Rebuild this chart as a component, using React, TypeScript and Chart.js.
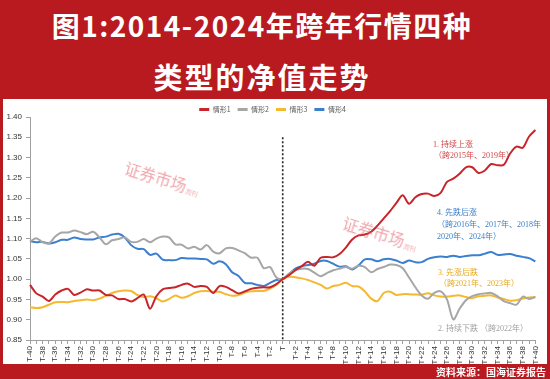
import React, { useEffect, useRef } from "react";
import { Chart, registerables } from "chart.js";

Chart.register(...registerables);

const categories = [
  "T-40","T-39","T-38","T-37","T-36","T-35","T-34","T-33","T-32","T-31",
  "T-30","T-29","T-28","T-27","T-26","T-25","T-24","T-23","T-22","T-21",
  "T-20","T-19","T-18","T-17","T-16","T-15","T-14","T-13","T-12","T-11",
  "T-10","T-9","T-8","T-7","T-6","T-5","T-4","T-3","T-2","T-1",
  "T",
  "T+1","T+2","T+3","T+4","T+5","T+6","T+7","T+8","T+9","T+10",
  "T+11","T+12","T+13","T+14","T+15","T+16","T+17","T+18","T+19","T+20",
  "T+21","T+22","T+23","T+24","T+25","T+26","T+27","T+28","T+29","T+30",
  "T+31","T+32","T+33","T+34","T+35","T+36","T+37","T+38","T+39","T+40",
];

const seriesNames = ["情形1", "情形2", "情形3", "情形4"];

const case1 = [
  0.986, 0.965, 0.957, 0.946, 0.962, 0.972, 0.976, 0.961, 0.967, 0.975,
  0.972, 0.972, 0.961, 0.96, 0.951, 0.951, 0.945, 0.953, 0.962, 0.927,
  0.958, 0.975, 0.978, 0.98, 0.986, 0.989, 0.981, 0.983, 0.981, 0.966,
  0.983, 0.981, 0.973, 0.965, 0.97, 0.976, 0.979, 0.98, 0.98, 0.988,
  1.0,
  1.01, 1.022, 1.032, 1.043, 1.033, 1.053, 1.055, 1.054, 1.062, 1.078,
  1.098, 1.108, 1.11, 1.117, 1.132, 1.15, 1.168, 1.188, 1.207, 1.186,
  1.202, 1.21, 1.211, 1.205, 1.213, 1.24, 1.248, 1.26, 1.276, 1.276,
  1.262, 1.268, 1.284, 1.281, 1.282, 1.31, 1.327, 1.324, 1.352, 1.368,
];

const case2 = [
  1.093, 1.101, 1.091, 1.088, 1.105, 1.115, 1.115, 1.12, 1.116, 1.111,
  1.117, 1.103, 1.086, 1.096, 1.099, 1.103, 1.092, 1.092, 1.099, 1.091,
  1.1, 1.105, 1.103, 1.086, 1.085, 1.076, 1.08, 1.073, 1.084, 1.068,
  1.064, 1.076, 1.077, 1.071, 1.064, 1.053, 1.053, 1.027, 1.03, 1.004,
  1.0,
  1.014, 1.022, 1.026, 1.025, 1.016, 1.007, 1.015, 1.022, 1.026, 1.03,
  1.026, 1.033, 1.03, 1.017, 1.025, 1.03, 1.036, 1.035, 1.027, 1.004,
  0.98, 0.96, 0.952, 0.966, 0.97, 0.95, 0.901, 0.927, 0.948, 0.958,
  0.963, 0.965, 0.966, 0.958, 0.946, 0.941, 0.937, 0.957, 0.951, 0.957,
];

const case3 = [
  0.931, 0.929, 0.931, 0.937, 0.943, 0.944, 0.943, 0.946, 0.948, 0.95,
  0.948, 0.952, 0.959, 0.966, 0.97, 0.972, 0.971, 0.961, 0.956, 0.958,
  0.953, 0.945, 0.951, 0.96, 0.954, 0.958, 0.966, 0.97, 0.971, 0.969,
  0.969, 0.963, 0.959, 0.961, 0.967, 0.97, 0.971, 0.971, 0.977, 0.986,
  1.0,
  1.006, 1.005, 1.002, 0.998, 0.992, 0.986, 0.977, 0.983, 0.986, 0.991,
  0.983, 0.982, 0.97, 0.952, 0.946, 0.966, 0.969, 0.961, 0.963, 0.963,
  0.962, 0.962, 0.965, 0.96, 0.957, 0.957, 0.959, 0.96, 0.956, 0.953,
  0.958, 0.959, 0.96, 0.955, 0.951, 0.947, 0.948, 0.952, 0.955, 0.955,
];

const case4 = [
  1.094, 1.091, 1.092, 1.088, 1.091, 1.097, 1.097, 1.103, 1.099, 1.098,
  1.098, 1.103, 1.105, 1.11, 1.112, 1.103, 1.084, 1.075, 1.074, 1.06,
  1.063, 1.048, 1.047, 1.047, 1.052, 1.051, 1.051, 1.05, 1.049, 1.038,
  1.044, 1.037, 1.017, 1.008, 0.991, 0.99, 0.986, 0.983, 0.991, 0.998,
  1.0,
  1.012, 1.026, 1.032, 1.035, 1.038, 1.045, 1.045, 1.038, 1.031, 1.032,
  1.024, 1.034, 1.049, 1.049, 1.044, 1.049, 1.05, 1.046, 1.04, 1.046,
  1.042, 1.042, 1.05, 1.054, 1.056, 1.055, 1.058, 1.055, 1.057, 1.059,
  1.059, 1.063, 1.067, 1.06, 1.061, 1.062, 1.058, 1.055, 1.052, 1.044,
];

const seriesValues = [case1, case2, case3, case4];
const seriesColors = ["#c8252b", "#a6a6a6", "#f5b82e", "#3b7fcf"];

const yMin = 0.85;
const yMax = 1.4;
const yStep = 0.05;
const markerIndex = 40; // "T"
const markerTop = 1.35;

const RED = "#b81a1f";
const CJK = '"Noto Sans CJK SC", "Noto Sans", sans-serif';
const NOTE_FONT = '"Liberation Serif", "Noto Sans CJK SC", serif';

const markerPlugin = {
  id: "markerLine",
  beforeDatasetsDraw(chart: any) {
    const { ctx, scales } = chart;
    const x = scales.x.getPixelForValue(markerIndex);
    const yTop = scales.y.getPixelForValue(markerTop);
    const yBot = scales.y.getPixelForValue(yMin);
    ctx.save();
    ctx.strokeStyle = "#222";
    ctx.lineWidth = 1.6;
    ctx.setLineDash([2, 2]);
    ctx.beginPath();
    ctx.moveTo(x, yTop);
    ctx.lineTo(x, yBot);
    ctx.stroke();
    ctx.restore();
  },
};

const legendHeightPlugin = {
  id: "legendHeight",
  afterInit(chart: any) {
    const legend = chart.legend;
    if (!legend) return;
    const orig = legend.fit;
    legend.fit = function () {
      orig.call(this);
      this.height = 18;
    };
  },
};

function Note(props: { left: number; top: number; color: string; children: any }) {
  return (
    <div
      style={{
        position: "absolute",
        left: props.left,
        top: props.top,
        color: props.color,
        fontFamily: NOTE_FONT,
        fontSize: 8,
        lineHeight: "9px",
        whiteSpace: "nowrap",
      }}
    >
      {props.children}
    </div>
  );
}

function Watermark(props: { left: number; top: number }) {
  return (
    <div
      style={{
        position: "absolute",
        left: props.left,
        top: props.top,
        transform: "rotate(17deg)",
        transformOrigin: "left top",
        color: "rgba(226, 90, 100, 0.55)",
        fontFamily: '"Noto Sans CJK SC", serif',
        fontSize: 16,
        lineHeight: "18px",
        whiteSpace: "nowrap",
        pointerEvents: "none",
        display: "flex",
        alignItems: "flex-end",
      }}
    >
      <span>证券市场</span>
      <span style={{ fontSize: 6, lineHeight: "6px", width: 7, marginLeft: 1, display: "inline-block", wordBreak: "break-all" }}>
        周刊
      </span>
    </div>
  );
}

function TitleLine(props: { top: number; size: number; spacing: number; children: any }) {
  return (
    <div
      style={{
        position: "absolute",
        left: 262,
        top: props.top,
        transform: "translateX(-50%)",
        color: "#fff",
        fontFamily: CJK,
        fontWeight: 700,
        fontSize: props.size,
        lineHeight: "32px",
        letterSpacing: props.spacing,
        whiteSpace: "nowrap",
      }}
    >
      {props.children}
    </div>
  );
}

export default function App() {
  const canvasRef = useRef<HTMLCanvasElement | null>(null);

  useEffect(() => {
    if (!canvasRef.current) return;
    const chart = new Chart(canvasRef.current, {
      type: "line",
      data: {
        labels: categories,
        datasets: seriesNames.map((name, k) => ({
          label: name,
          data: seriesValues[k],
          borderColor: seriesColors[k],
          backgroundColor: seriesColors[k],
          borderWidth: 2,
          pointRadius: 0,
          tension: 0.3,
          fill: false,
        })),
      },
      options: {
        animation: false,
        responsive: false,
        maintainAspectRatio: false,
        layout: { padding: { left: 0, right: 5, top: 0, bottom: 0 } },
        plugins: {
          tooltip: { enabled: false },
          legend: {
            display: true,
            position: "top",
            labels: {
              boxWidth: 10,
              boxHeight: 3,
              padding: 7,
              color: "#595959",
              font: { family: CJK, size: 7 },
              generateLabels: (chart: any) =>
                Chart.defaults.plugins.legend.labels
                  .generateLabels(chart)
                  .map((l: any) => ({ ...l, lineWidth: 0, fillStyle: l.strokeStyle })),
            },
          },
        },
        scales: {
          x: {
            type: "category",
            offset: false,
            afterFit: (scale: any) => {
              scale.height = 24;
            },
            grid: {
              display: true,
              drawOnChartArea: false,
              drawTicks: true,
              tickLength: 4,
              color: "#a0a0a0",
            },
            border: { display: true, color: "#a0a0a0", width: 1 },
            ticks: {
              autoSkip: false,
              maxRotation: 90,
              minRotation: 90,
              padding: 2,
              color: "#333",
              font: { family: '"Liberation Sans", Arial, sans-serif', size: 8 },
              callback: (_v: any, i: number) => (i % 2 === 0 ? categories[i] : ""),
            },
          },
          y: {
            min: yMin,
            max: yMax,
            afterFit: (scale: any) => {
              scale.width = 27;
            },
            grid: {
              display: true,
              drawOnChartArea: false,
              drawTicks: true,
              tickLength: 4,
              color: "#a0a0a0",
            },
            border: { display: true, color: "#a0a0a0", width: 1 },
            ticks: {
              stepSize: yStep,
              padding: 4,
              color: "#333",
              font: { family: '"Liberation Sans", Arial, sans-serif', size: 8 },
              callback: (v: any) => Number(v).toFixed(2),
            },
          },
        },
      },
      plugins: [markerPlugin, legendHeightPlugin],
    } as any);
    return () => chart.destroy();
  }, []);

  return (
    <div
      style={{
        position: "absolute",
        left: 0,
        top: 0,
        width: 550,
        height: 379,
        background: "#fff",
        overflow: "hidden",
      }}
    >
      {/* title banner */}
      <div style={{ position: "absolute", left: 0, top: 0, width: 550, height: 99, background: RED }} />
      <TitleLine top={9} size={28} spacing={1.5}>图1:2014-2024年跨年行情四种</TitleLine>
      <TitleLine top={60} size={29} spacing={2}>类型的净值走势</TitleLine>

      {/* side frame */}
      <div style={{ position: "absolute", left: 0, top: 0, width: 3, height: 379, background: RED }} />
      <div style={{ position: "absolute", left: 547, top: 0, width: 3, height: 379, background: RED }} />

      {/* chart */}
      <canvas
        ref={canvasRef}
        width={544}
        height={265}
        style={{ position: "absolute", left: 3, top: 99, width: 544, height: 265 }}
      />

      {/* watermarks */}
      <Watermark left={128} top={158} />
      <Watermark left={346} top={213} />

      {/* annotations */}
      <Note left={433} top={140} color="#d04545">1. 持续上涨</Note>
      <Note left={434} top={151} color="#d04545">（跨2015年、2019年）</Note>
      <Note left={437} top={208} color="#3a7fc8">4. 先跌后涨</Note>
      <Note left={437} top={220} color="#3a7fc8">（跨2016年、2017年、2018年</Note>
      <Note left={437} top={232} color="#3a7fc8">2020年、2024年）</Note>
      <Note left={438} top={268} color="#e8a81a">3. 先涨后跌</Note>
      <Note left={439} top={279} color="#e8a81a">（跨2021年、2023年）</Note>
      <Note left={438} top={324} color="#a0a0a0">2. 持续下跌 （跨2022年）</Note>

      {/* footer */}
      <div style={{ position: "absolute", left: 0, top: 364, width: 550, height: 15, background: RED }} />
      <div
        style={{
          position: "absolute",
          right: 4,
          top: 364,
          height: 15,
          lineHeight: "15px",
          color: "#fff",
          fontFamily: CJK,
          fontWeight: 700,
          fontSize: 10,
          whiteSpace: "nowrap",
        }}
      >
        资料来源：国海证券报告
      </div>
    </div>
  );
}
